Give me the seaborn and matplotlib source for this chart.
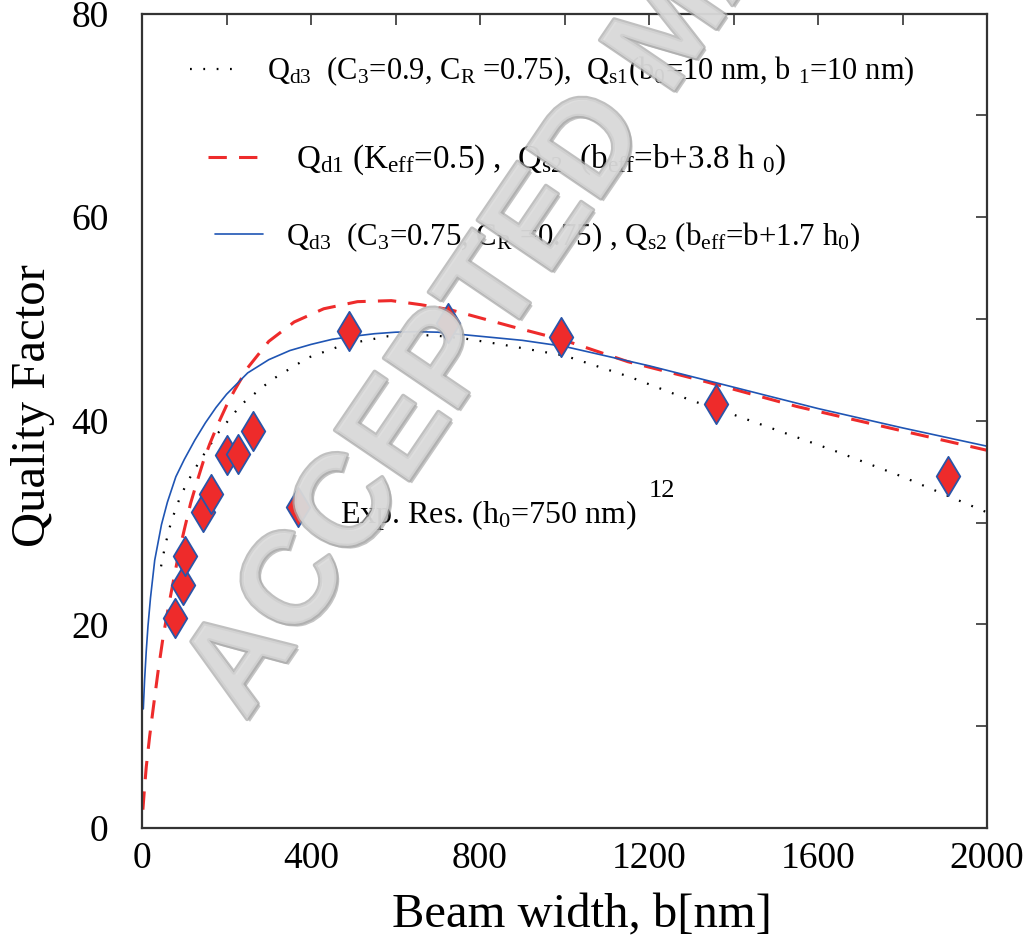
import matplotlib
matplotlib.use("Agg")
import matplotlib.pyplot as plt
import matplotlib.patheffects as pe
import seaborn as sns

# Q_d3 (C3=0.9, CR=0.75) combined with Q_s1 (b0=10 nm, b1=10 nm)
b_dot = [45, 55, 69, 90, 109, 130, 148, 180, 235, 306, 393, 480, 582, 685,
         760, 850, 1000, 1155, 1300, 1400, 1636, 1800, 2000]
q_dot = [25.7, 27.8, 30.1, 32.5, 34.1, 35.6, 36.8, 38.8, 41.6, 44.0, 46.2, 47.5,
         48.3, 48.4, 48.1, 47.5, 46.4, 44.3, 42.0, 40.6, 37.1, 34.5, 31.0]

# Q_d1 (K_eff=0.5) combined with Q_s2 (b_eff=b+3.8 h0)
b_dash = [2, 6, 10, 18, 26, 38, 50, 62, 73, 86, 100, 115, 130, 145, 160, 180,
          200, 219, 250, 300, 360, 430, 510, 590, 660, 730, 880, 1000, 1150,
          1320, 1550, 1800, 2000]
q_dash = [1.8, 4.0, 6.0, 9.0, 11.6, 15.4, 18.8, 21.6, 24.0, 26.8, 29.3, 31.9,
          34.0, 36.0, 37.7, 39.7, 41.5, 43.0, 45.2, 47.8, 49.7, 51.0, 51.7, 51.8,
          51.4, 50.9, 49.2, 47.9, 45.8, 44.0, 41.4, 39.0, 37.1]

# Q_d3 (C3=0.75, CR=0.75) combined with Q_s2 (b_eff=b+1.7 h0)
b_solid = [3, 6, 10, 14, 20, 30, 46, 60, 80, 100, 125, 150, 175, 200, 250, 300,
           350, 400, 450, 500, 550, 600, 650, 700, 800, 900, 1000, 1200, 1400,
           1600, 1800, 2000]
q_solid = [11.7, 14.5, 17.4, 19.8, 22.6, 26.3, 29.8, 32.0, 34.5, 36.2, 38.1, 39.8,
           41.3, 42.6, 44.7, 46.0, 46.9, 47.5, 48.0, 48.3, 48.55, 48.7, 48.75, 48.7,
           48.3, 47.9, 47.3, 45.4, 43.3, 41.2, 39.3, 37.5]

# measured resonators, h0 = 750 nm
b_exp = [78, 98, 102, 144, 163, 202, 226, 263, 368, 491, 724, 992, 1359, 1908]
q_exp = [20.6, 23.9, 26.7, 31.0, 32.8, 36.6, 36.7, 39.0, 31.5, 48.8, 49.6, 48.2,
         41.6, 34.6]

x_ticks = list(range(0, 2001, 200))
x_ticklabels = ["0", "", "400", "", "800", "", "1200", "", "1600", "", "2000"]
y_ticks = list(range(0, 81, 10))
y_ticklabels = ["0", "", "20", "", "40", "", "60", "", "80"]

label_dot = r"Q$_{\mathrm{d3}}$  (C$_{3}$=0.9, C$_{\mathrm{R}}$ =0.75),  Q$_{\mathrm{s1}}$(b$_{0}$=10 nm, b $_{1}$=10 nm)"
label_dash = r"Q$_{\mathrm{d1}}$ (K$_{\mathrm{eff}}$=0.5) ,  Q$_{\mathrm{s2}}$  (b$_{\mathrm{eff}}$=b+3.8 h $_{0}$)"
label_solid = r"Q$_{\mathrm{d3}}$  (C$_{3}$=0.75, C$_{\mathrm{R}}$ =0.75) , Q$_{\mathrm{s2}}$ (b$_{\mathrm{eff}}$=b+1.7 h$_{0}$)"
label_exp = r"Exp. Res. (h$_{0}$=750 nm)"
ref_mark = "12"

sns.set_theme(style="white")
plt.rcParams["font.family"] = ["Liberation Serif", "DejaVu Serif"]
plt.rcParams["mathtext.fontset"] = "custom"
plt.rcParams["mathtext.rm"] = "Liberation Serif"
plt.rcParams["mathtext.it"] = "Liberation Serif:italic"
plt.rcParams["mathtext.bf"] = "Liberation Serif:bold"
plt.rcParams["text.color"] = "black"

RED = "#ee2b2b"
BLUE = "#1f55b4"

fig = plt.figure(figsize=(10.3, 9.39), dpi=100)
ax = fig.add_axes([0.1379, 0.1182, 0.8204, 0.8674])

sns.lineplot(x=b_dot, y=q_dot, ax=ax, color="black", linewidth=1.6,
             linestyle=(0, (0.8, 5.2)), sort=False, estimator=None)
line_dot = ax.lines[-1]
sns.lineplot(x=b_dash, y=q_dash, ax=ax, color=RED, linewidth=2.2,
             linestyle=(0, (6, 4)), sort=False, estimator=None)
line_dash = ax.lines[-1]
sns.lineplot(x=b_solid, y=q_solid, ax=ax, color=BLUE, linewidth=1.2,
             sort=False, estimator=None)
line_solid = ax.lines[-1]

sns.scatterplot(x=b_exp, y=q_exp, ax=ax, marker="d", s=400, color=RED,
                edgecolor="#2a55a8", linewidth=1.3, zorder=5)

ax.set_xlim(0, 2000)
ax.set_ylim(0, 80)
ax.set_xticks(x_ticks)
ax.set_xticklabels(x_ticklabels)
ax.set_yticks(y_ticks)
ax.set_yticklabels(y_ticklabels)
ax.tick_params(axis="both", direction="in", length=8, width=1.2, color="#333333",
               top=True, right=True, labelsize=27, labelcolor="black")
ax.tick_params(axis="x", pad=10)
ax.tick_params(axis="y", pad=24)
for sp in ax.spines.values():
    sp.set_color("#333333")
    sp.set_linewidth(1.6)

ax.set_xlabel("Beam width, b[nm]", fontsize=35, color="black")
ax.set_ylabel("Quality Factor", fontsize=35, color="black")
ax.xaxis.set_label_coords(0.521, -0.080)
ax.yaxis.set_label_coords(-0.103, 0.519)

common = dict(frameon=False, borderpad=0, borderaxespad=0, loc="center left")
leg1 = ax.legend(handles=[line_dot], labels=[label_dot], fontsize=22,
                 bbox_to_anchor=(0.0568, 0.929), handlelength=1.7,
                 handletextpad=0.82, **common)
ax.add_artist(leg1)
leg2 = ax.legend(handles=[line_dash], labels=[label_dash], fontsize=23.8,
                 bbox_to_anchor=(0.078, 0.820), handlelength=1.6,
                 handletextpad=1.05, **common)
ax.add_artist(leg2)
leg3 = ax.legend(handles=[line_solid], labels=[label_solid], fontsize=22.2,
                 bbox_to_anchor=(0.0864, 0.7256), handlelength=1.55,
                 handletextpad=0.75, **common)

ax.text(0.234, 0.3745, label_exp, transform=ax.transAxes, fontsize=23,
        ha="left", va="baseline")
ax.text(0.599, 0.4064, ref_mark, transform=ax.transAxes, fontsize=19,
        ha="left", va="baseline")

# manuscript stamp across the plot
fig.text(0.2105, 0.252, "ACCEPTED MANUSCRIPT", rotation=55.8,
         rotation_mode="anchor", ha="left", va="center", fontsize=94,
         family="Liberation Sans", weight="bold", color="#dcdcdc", alpha=0.72,
         zorder=10,
         path_effects=[pe.SimplePatchShadow(offset=(2, -2), shadow_rgbFace="#808080", alpha=0.45),
                       pe.Stroke(linewidth=3, foreground="#a8a8a8"),
                       pe.Normal()])

fig.savefig("out.png", dpi=100)
